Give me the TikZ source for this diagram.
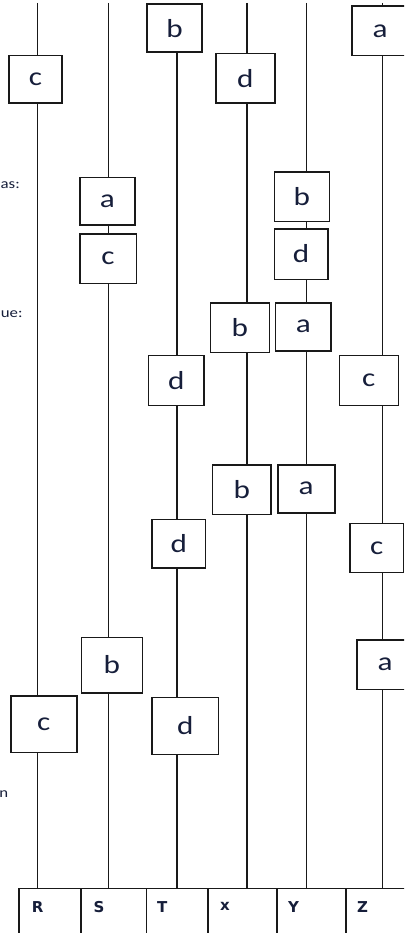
\documentclass[tikz,border=0pt]{standalone}
\usepackage{fontspec}
\setmainfont{Carlito}[FakeStretch=1.2]
\newfontfamily\tagfont{DejaVu Sans}
\usepackage{tikz}
\definecolor{inkcol}{RGB}{22,30,58}
\definecolor{rulecol}{RGB}{25,25,25}

\begin{document}
\begin{tikzpicture}[x=1pt,y=-1pt]
\tikzstyle{every node}=[text=inkcol]
\tikzstyle{ev}=[draw=rulecol,line width=1.6pt,fill=white,inner sep=0pt,font=\fontsize{26}{26}\selectfont]
\tikzstyle{wire}=[draw=rulecol,line width=1.6pt]
\tikzstyle{cell}=[draw=rulecol,line width=1.6pt,anchor=north west,minimum height=70pt,inner sep=0pt]
\tikzstyle{tag}=[anchor=west,inner sep=0pt,font=\tagfont\bfseries\fontsize{15}{15}\selectfont]
\tikzstyle{cut}=[anchor=east,inner sep=0pt,font=\fontsize{14}{14}\selectfont]
\useasboundingbox (0,0) rectangle (404,933);
\clip (0,0) rectangle (404,933);
\node[cell,minimum width=62pt] (cR) at (18,887.7) {};
\node[cell,minimum width=65.7pt] (cS) at (80,887.7) {};
\node[cell,minimum width=61.6pt] (cT) at (145.7,887.7) {};
\node[cell,minimum width=68.7pt] (cX) at (207.3,887.7) {};
\node[cell,minimum width=69pt] (cY) at (276,887.7) {};
\node[cell,minimum width=75pt] (cZ) at (345,887.7) {};
\node[tag] (tR) at (31.7,906.7) {R};
\node[tag] (tS) at (93.5,906.7) {S};
\node[tag] (tT) at (157,906.7) {T};
\node[tag] (tX) at (220,906.7) {x};
\node[tag] (tY) at (288,906.7) {Y};
\node[tag] (tZ) at (357,906.7) {Z};
\foreach \n/\x in {R/37.3,S/108.3,T/176.7,X/246.7,Y/306.3,Z/382.3}
  {\coordinate (top\n) at (\x,3);
   \draw[wire] (top\n) -- (top\n |- c\n.north);}
\node[ev,minimum width=53pt,minimum height=47.6pt] (r1) at (35.5,79.5) {c};
\node[ev,minimum width=66pt,minimum height=56.6pt] (r2) at (43.7,724) {c};
\node[ev,minimum width=55pt,minimum height=47.6pt] (s1) at (107.3,201.5) {a};
\node[ev,minimum width=56.6pt,minimum height=49.3pt] (s2) at (108,258.7) {c};
\node[ev,minimum width=61pt,minimum height=55.4pt] (s3) at (111.8,665) {b};
\node[ev,minimum width=55pt,minimum height=48pt] (t1) at (174.5,28.3) {b};
\node[ev,minimum width=55.7pt,minimum height=50pt] (t2) at (176.2,380.3) {d};
\node[ev,minimum width=53.7pt,minimum height=48.4pt] (t3) at (178.8,543.5) {d};
\node[ev,minimum width=66.3pt,minimum height=57pt] (t4) at (185.2,725.8) {d};
\node[ev,minimum width=59pt,minimum height=49.6pt] (x1) at (245.2,78.5) {d};
\node[ev,minimum width=59pt,minimum height=49.6pt] (x2) at (239.8,327.5) {b};
\node[ev,minimum width=58.7pt,minimum height=49.6pt] (x3) at (241.7,489.5) {b};
\node[ev,minimum width=55pt,minimum height=49.3pt] (y1) at (301.8,196.7) {b};
\node[ev,minimum width=53.4pt,minimum height=50.6pt] (y2) at (301,254) {d};
\node[ev,minimum width=55.3pt,minimum height=48pt] (y3) at (303.3,326.7) {a};
\node[ev,minimum width=57pt,minimum height=48pt] (y4) at (306.2,488.7) {a};
\node[ev,minimum width=56pt,minimum height=49.4pt] (z1) at (380,31) {a};
\node[ev,minimum width=59pt,minimum height=50pt] (z2) at (368.8,380.3) {c};
\node[ev,minimum width=53.3pt,minimum height=49pt] (z3) at (376.7,547.8) {c};
\node[ev,minimum width=56pt,minimum height=49.6pt] (z4) at (385,664.5) {a};
\node[cut] (n1) at (20,185) {as:};
\node[cut] (n2) at (22.7,314) {ue:};
\node[cut] (n3) at (8.3,794) {n};
\end{tikzpicture}
\end{document}
